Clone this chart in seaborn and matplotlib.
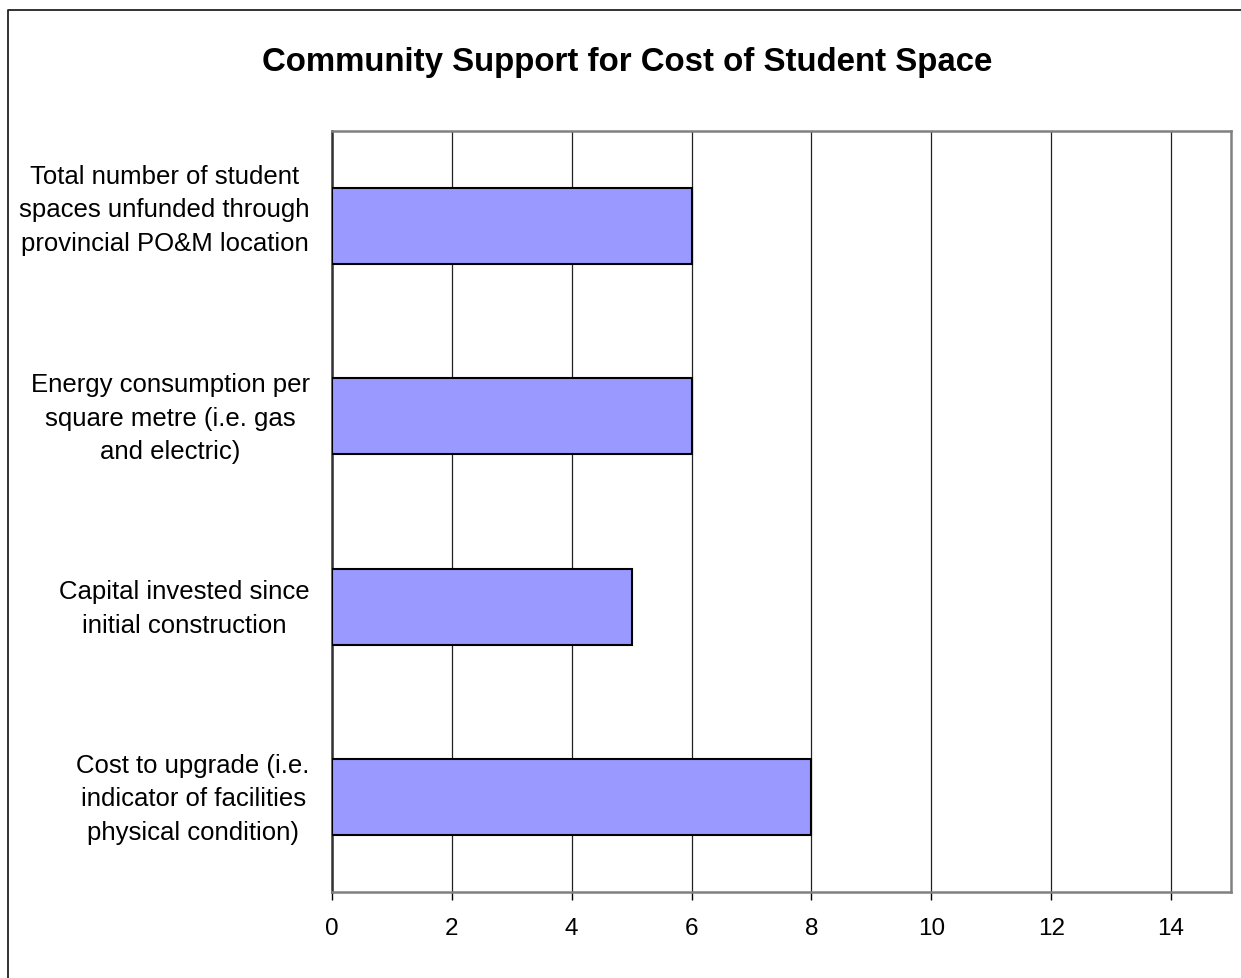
import matplotlib
matplotlib.use("Agg")
import matplotlib.pyplot as plt
import matplotlib.transforms as mtransforms
import seaborn as sns
import pandas as pd
from matplotlib.lines import Line2D

categories = [
    "Total number of student\nspaces unfunded through\nprovincial PO&M location",
    "Energy consumption per\nsquare metre (i.e. gas\nand electric)",
    "Capital invested since\ninitial construction",
    "Cost to upgrade (i.e.\nindicator of facilities\nphysical condition)",
]
values = [6, 6, 5, 8]
xticks = [0, 2, 4, 6, 8, 10, 12, 14]
title = "Community Support for Cost of Student Space"

sns.set_style("white")
plt.rcParams["font.family"] = ["Liberation Sans", "DejaVu Sans"]
plt.rcParams["text.color"] = "black"
plt.rcParams["xtick.color"] = "black"
plt.rcParams["ytick.color"] = "black"

W, H = 1241, 979
fig = plt.figure(figsize=(W / 100, H / 100), dpi=100)
ax = fig.add_axes([332 / W, 1 - 893 / H, (1231 - 332) / W, (893 - 132) / H])

df = pd.DataFrame({"cat": categories, "val": values})
sns.barplot(data=df, x="val", y="cat", orient="h", color="#9999FF",
            saturation=1, edgecolor="black", linewidth=1.5, width=0.4, ax=ax,
            zorder=3)

ax.set_xlim(0, 15)
ax.set_ylim(3.5, -0.5)
ax.set_xticks(xticks)
ax.set_xticklabels([str(t) for t in xticks], fontsize=17.5)
ax.set_xlabel("")
ax.set_ylabel("")
ax.set_yticks(range(len(categories)))
ax.set_yticklabels(categories, fontsize=18.5, multialignment="center", linespacing=1.5)
ax.tick_params(axis="y", length=0, pad=16)
ax.tick_params(axis="x", direction="out", length=6, width=1, color="black", pad=12, bottom=True)

# small vertical nudges of the category labels (pixels, upward)
shifts = [24, 6, 6, 6]
for lbl, s in zip(ax.get_yticklabels(), shifts):
    lbl.set_transform(lbl.get_transform() + mtransforms.ScaledTranslation(0, s / 100, fig.dpi_scale_trans))

ax.xaxis.grid(True, color="#222222", linewidth=0.9)
ax.yaxis.grid(False)
ax.set_axisbelow(True)

for s in ["top", "right", "bottom"]:
    ax.spines[s].set_color("#808080")
    ax.spines[s].set_linewidth(1.8)
ax.spines["left"].set_color("#333333")
ax.spines["left"].set_linewidth(1.8)

fig.text(0.505, 1 - 63 / H, title, ha="center", va="center",
         fontsize=23.8, fontweight="bold")

fig.add_artist(Line2D([7.5 / W, 7.5 / W, 1.0], [0.0, 1 - 11 / H, 1 - 11 / H],
                      transform=fig.transFigure, color="#222222", linewidth=1.3))

fig.savefig("out.png", dpi=100)
